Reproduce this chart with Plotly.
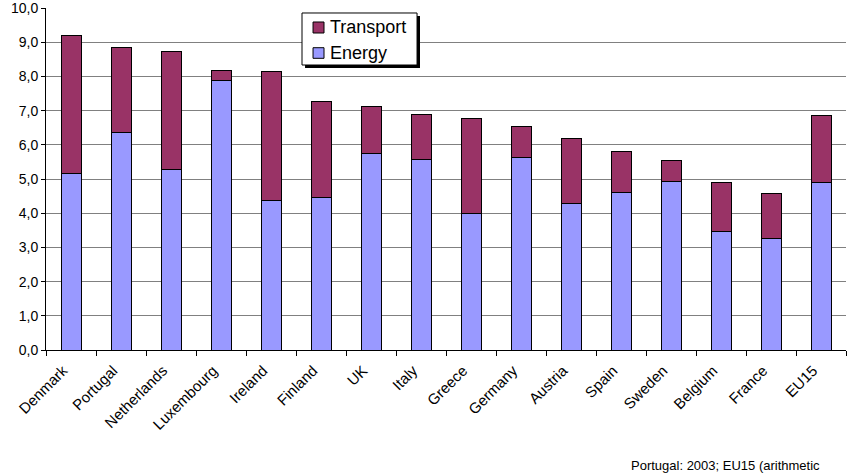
import plotly.graph_objects as go

countries = ["Denmark", "Portugal", "Netherlands", "Luxembourg", "Ireland", "Finland",
             "UK", "Italy", "Greece", "Germany", "Austria", "Spain", "Sweden",
             "Belgium", "France", "EU15"]
energy = [5.16, 6.36, 5.27, 7.87, 4.37, 4.45, 5.76, 5.56, 3.98, 5.64, 4.29, 4.61, 4.92, 3.46, 3.25, 4.89]
total = [9.21, 8.84, 8.72, 8.16, 8.13, 7.28, 7.11, 6.89, 6.76, 6.54, 6.19, 5.80, 5.55, 4.91, 4.58, 6.85]
transport = [round(t - e, 2) for t, e in zip(total, energy)]

series_names = ["Energy", "Transport"]
series_colors = {"Energy": "#9999FF", "Transport": "#993366"}

FONT = "Arial, Liberation Sans, sans-serif"

fig = go.Figure()
for name, vals in zip(series_names, [energy, transport]):
    fig.add_trace(go.Bar(x=countries, y=vals, name=name, showlegend=False,
                         marker=dict(color=series_colors[name],
                                     line=dict(color="black", width=1))))

# Boxed key with a drop shadow, Transport above Energy
shapes = [
    dict(type="rect", xref="paper", yref="paper", x0=0.3238, x1=0.4675, y0=0.8246, y1=0.9766,
         fillcolor="black", line=dict(width=0)),
    dict(type="rect", xref="paper", yref="paper", x0=0.32, x1=0.4638, y0=0.8333, y1=0.9854,
         fillcolor="white", line=dict(color="black", width=1)),
]
annotations = []
key_rows = [("Transport", 0.9269, 0.9591), ("Energy", 0.8529, 0.8839)]
for name, y0, y1 in key_rows:
    shapes.append(dict(type="rect", xref="paper", yref="paper", x0=0.3338, x1=0.3475,
                       y0=y0, y1=y1, fillcolor=series_colors[name],
                       line=dict(color="black", width=1)))
    annotations.append(dict(text=name, xref="paper", yref="paper", x=0.3525, y=(y0 + y1) / 2,
                            xanchor="left", yanchor="middle", showarrow=False,
                            font=dict(size=18, family=FONT, color="black")))

annotations.append(dict(text="Portugal: 2003; EU15 (arithmetic", xref="paper", yref="paper",
                        x=0.97, y=-0.339, xanchor="right", yanchor="middle",
                        showarrow=False, font=dict(size=13, family=FONT, color="black")))

fig.update_layout(
    width=847, height=475,
    barmode="stack", bargap=0.6,
    separators=", ",
    paper_bgcolor="white", plot_bgcolor="white",
    font=dict(family=FONT, color="black", size=14),
    margin=dict(l=46, r=1, t=8, b=125),
    xaxis=dict(type="category", tickangle=-45, tickfont=dict(size=15),
               ticklabelshift=-8, ticklabelstandoff=5,
               showline=True, linecolor="black", linewidth=1,
               ticks="outside", tickson="boundaries", ticklen=5, tickcolor="black",
               showgrid=False),
    yaxis=dict(range=[0, 10], dtick=1, tickformat=".1f",
               ticklabeloverflow="allow",
               showline=True, linecolor="black", linewidth=1,
               ticks="outside", ticklen=4, tickcolor="black",
               showgrid=True, gridcolor="#808080", gridwidth=1,
               zeroline=False, tickfont=dict(size=14)),
    shapes=shapes,
    annotations=annotations,
)

fig.write_html("out.html")
